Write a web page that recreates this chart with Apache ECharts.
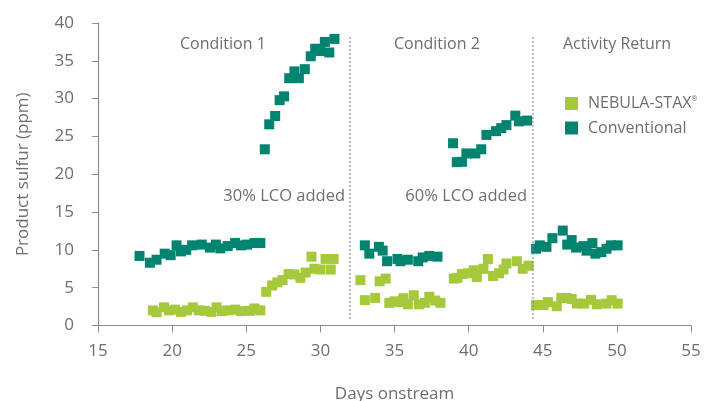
<!DOCTYPE html>
<html><head><meta charset="utf-8">
<script src="https://cdn.jsdelivr.net/npm/echarts@6/dist/echarts.min.js"></script>
<style>html,body{margin:0;padding:0;background:#fff}#c{width:704px;height:401px}</style>
</head><body><div id="c"></div>
<script>
// NEBULA-STAX® (light green)
const nebulaDays = [18.7,18.95,19.45,19.8,20.2,20.6,21.0,21.4,21.8,22.2,22.65,23.0,23.35,23.75,24.25,24.65,25.25,25.55,25.95,
  26.35,26.75,27.1,27.45,27.85,28.25,28.65,29.0,29.4,29.6,30.0,30.35,30.7,30.9,
  32.7,33.0,33.7,34.0,34.4,34.65,35.0,35.35,35.6,35.9,36.3,36.65,37.05,37.35,37.75,38.1,
  39.0,39.25,39.55,39.95,40.35,40.55,41.0,41.3,41.65,42.05,42.35,42.55,43.25,43.65,44.05,
  44.55,45.05,45.35,45.95,46.25,46.6,46.95,47.3,47.8,48.25,48.65,49.3,49.65,50.05];
const nebulaValues = [2.0,1.75,2.4,2.0,2.1,1.8,2.0,2.4,2.0,1.95,1.8,2.4,1.9,2.0,2.1,1.9,1.95,2.25,2.0,
  4.45,5.3,5.7,6.0,6.8,6.75,6.3,7.0,9.1,7.5,7.4,8.8,7.4,8.8,
  6.0,3.35,3.65,5.85,6.2,3.0,3.2,3.1,3.6,2.8,4.0,2.8,3.0,3.8,3.3,3.0,
  6.2,6.3,6.8,6.9,7.3,6.4,7.5,8.8,6.55,6.9,7.4,8.2,8.5,7.5,7.9,
  2.7,2.7,3.1,2.55,3.65,3.65,3.5,2.9,2.9,3.4,2.8,2.9,3.35,2.9];
// Conventional (teal)
const convDays = [17.8,18.5,18.95,19.5,19.9,20.3,20.6,20.95,21.35,22.0,22.55,22.95,23.25,23.75,24.25,24.65,25.05,25.55,25.95,
  26.25,26.55,26.95,27.25,27.55,27.9,28.25,28.55,28.95,29.35,29.65,30.0,30.3,30.6,30.95,
  33.0,33.3,33.95,34.2,34.5,35.2,35.4,35.9,36.6,36.9,37.35,37.9,
  38.95,39.2,39.55,39.85,40.45,40.85,41.2,41.85,42.2,42.55,43.15,43.4,43.95,
  44.55,44.8,45.25,45.65,46.35,46.65,46.95,47.25,47.75,47.95,48.35,48.55,48.95,49.3,49.6,50.05];
const convValues = [9.2,8.3,8.7,9.5,9.3,10.6,9.8,10.0,10.6,10.7,10.3,10.7,10.2,10.5,10.9,10.6,10.7,10.9,10.9,
  23.3,26.6,27.7,29.8,30.3,32.7,33.6,32.7,33.9,35.6,36.6,36.3,37.5,36.1,37.9,
  10.6,9.5,10.4,9.9,8.5,8.8,8.5,8.7,8.5,9.0,9.2,9.1,
  24.1,21.6,21.65,22.75,22.75,23.3,25.2,25.7,26.1,26.5,27.75,27.0,27.1,
  10.15,10.6,10.4,11.55,12.55,10.7,11.3,10.3,10.5,9.9,10.9,9.5,9.7,10.15,10.6,10.6];
const xTicks = {min: 15, max: 55, step: 5};
const yTicks = {min: 0, max: 40, step: 5};
const dividerDays = [32.0, 44.3];
const dividerRange = [0.9, 38.4];
const sectionLabels = ['Condition 1', 'Condition 2', 'Activity Return'];
const noteLabels = ['30% LCO added', '60% LCO added'];

const GREEN = '#a5c93b', TEAL = '#00846f', TXT = '#6e6e6e', AX = '#8c8c8c';
const FONT = 'Open Sans';
const pairs = (xs, ys) => xs.map((x, i) => [x, ys[i]]);

const chart = echarts.init(document.getElementById('c'), null, {renderer: 'canvas'});
chart.setOption({
  animation: false,
  textStyle: {fontFamily: FONT, color: TXT},
  grid: {left: 98, right: 13, top: 23, bottom: 75.5, outerBoundsMode: 'none', containLabel: false},
  legend: {
    orient: 'vertical', left: 560, top: 90.5, itemWidth: 13, itemHeight: 13, itemGap: 8.5,
    icon: 'rect',
    textStyle: {fontFamily: FONT, fontSize: 16, lineHeight: 16, color: TXT, padding: [0, 0, 0, 5],
      rich: {sup: {fontSize: 7, padding: [0, 0, 9, 0], fontFamily: FONT, color: TXT}}},
    formatter: n => n === 'NEBULA-STAX®' ? 'NEBULA-STAX{sup|®}' : n,
    data: ['NEBULA-STAX®', 'Conventional']
  },
  xAxis: {
    type: 'value', min: xTicks.min, max: xTicks.max, interval: xTicks.step,
    name: 'Days onstream', nameLocation: 'middle', nameGap: 60,
    nameTextStyle: {fontSize: 17, color: TXT, fontFamily: FONT},
    axisLine: {show: true, lineStyle: {color: AX, width: 1.2}},
    axisTick: {show: true, inside: false, length: 7, lineStyle: {color: AX}},
    axisLabel: {fontSize: 17, color: TXT, margin: 17, fontFamily: FONT},
    splitLine: {show: false}
  },
  yAxis: {
    type: 'value', min: yTicks.min, max: yTicks.max, interval: yTicks.step,
    name: 'Product sulfur (ppm)', nameLocation: 'middle', nameGap: 66,
    nameTextStyle: {fontSize: 17, color: TXT, fontFamily: FONT},
    axisLine: {show: true, lineStyle: {color: AX, width: 1.2}},
    axisTick: {show: true, inside: false, length: 6, lineStyle: {color: AX}},
    axisLabel: {fontSize: 17, color: TXT, margin: 24, fontFamily: FONT},
    splitLine: {show: false}
  },
  series: [
    {
      name: 'NEBULA-STAX®', type: 'scatter', symbol: 'rect', symbolSize: 10,
      itemStyle: {color: GREEN, opacity: 1},
      data: pairs(nebulaDays, nebulaValues),
      markLine: {
        silent: true, symbol: 'none', label: {show: false},
        lineStyle: {color: '#8a8a8a', type: [1.5, 2.5], width: 1.5},
        data: dividerDays.map(d => [{coord: [d, dividerRange[0]]}, {coord: [d, dividerRange[1]]}])
      }
    },
    {
      name: 'Conventional', type: 'scatter', symbol: 'rect', symbolSize: 10,
      itemStyle: {color: TEAL, opacity: 1},
      data: pairs(convDays, convValues)
    }
  ],
  graphic: [
    {type: 'text', left: 180, top: 36, style: {text: sectionLabels[0], font: '16px "Open Sans"', fill: TXT}},
    {type: 'text', left: 394, top: 36, style: {text: sectionLabels[1], font: '16px "Open Sans"', fill: TXT}},
    {type: 'text', left: 563, top: 36, style: {text: sectionLabels[2], font: '16px "Open Sans"', fill: TXT}},
    {type: 'text', right: 704 - 345, top: 188, style: {text: noteLabels[0], font: '16.5px "Open Sans"', fill: TXT}},
    {type: 'text', right: 704 - 527, top: 188, style: {text: noteLabels[1], font: '16.5px "Open Sans"', fill: TXT}}
  ]
});
</script></body></html>
